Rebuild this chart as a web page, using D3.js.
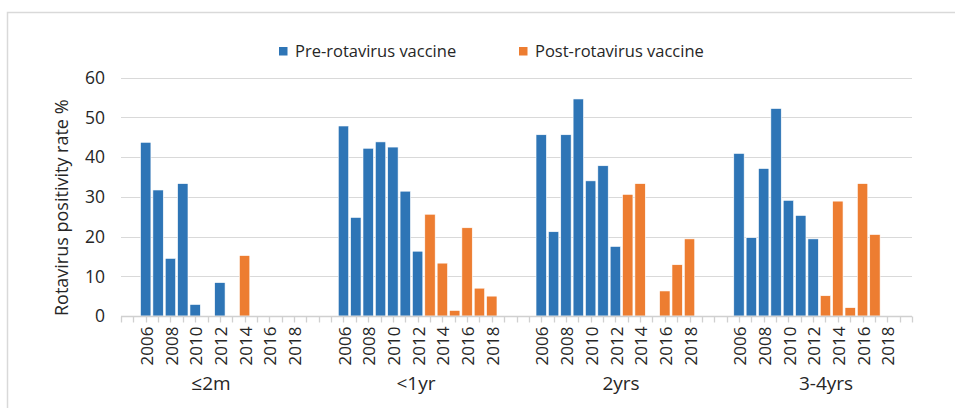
<!DOCTYPE html>
<html lang="en">
<head>
    <meta charset="UTF-8">
    <title>rotavirus positivity</title>
    <script src="https://d3js.org/d3.v7.min.js"></script>
    <style>
        body{
            margin: 0;
            background: #fff;
        }
        text{
            font-family: "Open Sans", sans-serif;
            fill: #262626;
        }
        .grid line{
            stroke: #d9d9d9;
            stroke-width: 1;
        }
    </style>
</head>
<body>
<svg id="chart" width="955" height="408"></svg>
<script>
    // categories
    const groups = ["≤2m", "<1yr", "2yrs", "3-4yrs"];
    const years = [2006, 2007, 2008, 2009, 2010, 2011, 2012, 2013, 2014, 2015, 2016, 2017, 2018];
    const yearLabels = [2006, 2008, 2010, 2012, 2014, 2016, 2018];
    const phase = ["pre", "pre", "pre", "pre", "pre", "pre", "pre", "post", "post", "post", "post", "post", "post"];
    const yTicks = [0, 10, 20, 30, 40, 50, 60];

    // positivity rate % per year, null = no bar
    const le2m   = [43.7, 31.7, 14.5, 33.3, 2.9, null, 8.4, null, 15.2, null, null, null, null];
    const lt1yr  = [47.8, 24.8, 42.2, 43.8, 42.5, 31.4, 16.3, 25.6, 13.3, 1.4, 22.2, 7.0, 5.0];
    const yrs2   = [45.6, 21.2, 45.6, 54.6, 34.0, 37.8, 17.5, 30.6, 33.3, null, 6.3, 12.9, 19.4];
    const yrs3_4 = [40.9, 19.7, 37.1, 52.2, 29.1, 25.3, 19.4, 5.1, 28.9, 2.1, 33.3, 20.5, null];

    const seriesByGroup = [le2m, lt1yr, yrs2, yrs3_4];
    const legendNames = {pre: "Pre-rotavirus vaccine", post: "Post-rotavirus vaccine"};
    const colors = {pre: "#2e75b6", post: "#ed7d31"};

    const slotsPerGroup = 16, yearOffset = 2;

    let rows = [];
    groups.forEach((g, gi) => {
        seriesByGroup[gi].forEach((v, yi) => {
            if (v !== null) rows.push({group: g, gi: gi, yi: yi, year: years[yi], value: v, phase: phase[yi]});
        });
    });

    const svg = d3.select("#chart");

    // outer frame
    svg.append("rect")
        .attr("x", 7.5).attr("y", 12.5)
        .attr("width", 1000).attr("height", 500)
        .attr("fill", "none")
        .attr("stroke", "#d9d9d9")
        .attr("stroke-width", 1.5);

    const nSlots = groups.length * slotsPerGroup;
    const x = d3.scaleLinear().domain([0, nSlots]).range([121, 912]);
    const y = d3.scaleLinear().domain([0, 60]).range([316, 77.5]);
    const slotOf = (gi, yi) => gi * slotsPerGroup + yearOffset + yi;

    // gridlines
    svg.append("g").attr("class", "grid")
        .selectAll("line")
        .data(yTicks.slice(1))
        .join("line")
        .attr("x1", x(0)).attr("x2", x(nSlots))
        .attr("y1", d => Math.round(y(d)) + 0.5)
        .attr("y2", d => Math.round(y(d)) + 0.5);

    // y tick labels
    svg.append("g")
        .selectAll("text")
        .data(yTicks)
        .join("text")
        .attr("x", 105)
        .attr("y", d => y(d))
        .attr("dy", "0.36em")
        .attr("text-anchor", "end")
        .style("font-size", "17.5px")
        .text(d => d);

    // y axis title
    svg.append("text")
        .attr("transform", "translate(68," + (y(30) + 11) + ") rotate(-90)")
        .attr("text-anchor", "middle")
        .style("font-size", "18px")
        .text("Rotavirus positivity rate %");

    // bars
    const bw = (x(1) - x(0)) * 0.84;
    svg.append("g")
        .selectAll("rect")
        .data(rows)
        .join("rect")
        .attr("x", d => x(slotOf(d.gi, d.yi)) - bw / 2)
        .attr("width", bw)
        .attr("y", d => y(d.value))
        .attr("height", d => y(0) - y(d.value))
        .attr("fill", d => colors[d.phase])
        .attr("stroke", "#fff")
        .attr("stroke-width", 0.6);

    // x axis line and ticks
    const axisY = Math.round(y(0)) + 0.5;
    svg.append("line")
        .attr("x1", x(0)).attr("x2", x(nSlots))
        .attr("y1", axisY).attr("y2", axisY)
        .attr("stroke", "#d0d0d0").attr("stroke-width", 1.3);
    svg.append("g")
        .selectAll("line")
        .data(d3.range(nSlots + 1))
        .join("line")
        .attr("x1", d => Math.round(x(d)) + 0.5)
        .attr("x2", d => Math.round(x(d)) + 0.5)
        .attr("y1", axisY).attr("y2", axisY + 6)
        .attr("stroke", "#d0d0d0").attr("stroke-width", 1.3);

    // year labels
    let labelRows = [];
    groups.forEach((g, gi) => {
        yearLabels.forEach(yr => labelRows.push({gi: gi, yi: years.indexOf(yr), year: yr}));
    });
    svg.append("g")
        .selectAll("text")
        .data(labelRows)
        .join("text")
        .attr("transform", d => "translate(" + (x(slotOf(d.gi, d.yi)) + 1) + "," + (axisY + 10) + ") rotate(-90)")
        .attr("text-anchor", "end")
        .attr("dy", "0.36em")
        .style("font-size", "17px")
        .text(d => d.year);

    // group labels
    const gx = d3.scalePoint().domain(groups).range([211, 826]);
    svg.append("g")
        .selectAll("text")
        .data(groups)
        .join("text")
        .attr("x", d => gx(d))
        .attr("y", 390)
        .attr("text-anchor", "middle")
        .style("font-size", "19px")
        .text(d => d);

    // legend
    const legend = svg.append("g")
        .selectAll("g")
        .data(["pre", "post"])
        .join("g")
        .attr("transform", (d, i) => "translate(" + (279 + i * 240) + ",47)");
    legend.append("rect")
        .attr("width", 8.5).attr("height", 8.5)
        .attr("fill", d => colors[d]);
    legend.append("text")
        .attr("x", 16).attr("y", 4.5)
        .attr("dy", "0.36em")
        .style("font-size", "16.5px")
        .text(d => legendNames[d]);
</script>
</body>
</html>
